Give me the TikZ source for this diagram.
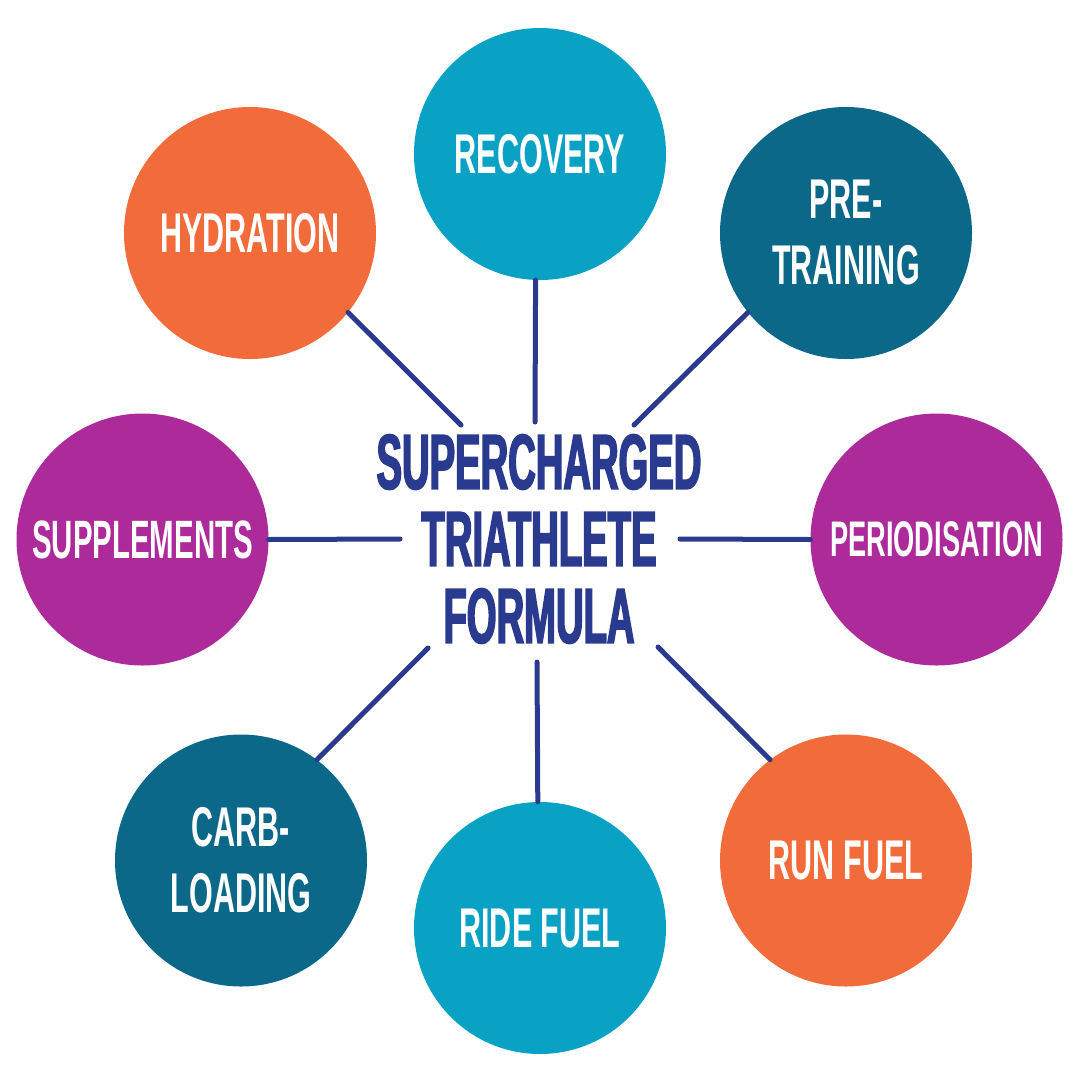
\documentclass[tikz,border=0pt]{standalone}
\usepackage{fontspec}
\newfontfamily\circfont[FakeStretch=0.545]{Liberation Sans Bold}
\newfontfamily\centfont[FakeStretch=0.49,FakeBold=2]{Liberation Sans Bold}
\definecolor{corange}{HTML}{F26C3B}
\definecolor{ccyan}{HTML}{09A2C4}
\definecolor{cteal}{HTML}{0B6888}
\definecolor{cpurple}{HTML}{AD2A9A}
\definecolor{cnavy}{HTML}{2A3B8F}
\tikzset{
  bubble/.style={circle, minimum size=252pt, inner sep=0pt, align=center, text=white,
    font=\circfont\fontsize{56}{66}\selectfont},
  conn/.style={draw=cnavy, line width=5pt, line cap=round},
  title/.style={align=center, text=cnavy, inner sep=0pt,
    font=\centfont\fontsize{78}{77}\selectfont}
}
\begin{document}
\begin{tikzpicture}[x=1pt,y=-1pt]
\path[use as bounding box, fill=white] (0,0) rectangle (1080,1080);

\node[bubble, fill=ccyan]   (rec) at (540,154)   {RECOVERY};
\node[bubble, fill=corange] (hyd) at (250,233)   {HYDRATION};
\node[bubble, fill=cteal]   (pre) at (846,233)   {PRE-\\TRAINING};
\node[bubble, fill=cpurple, font=\circfont\fontsize{54}{66}\selectfont] (sup) at (142.5,539.5) {SUPPLEMENTS};
\node[bubble, fill=cpurple, font=\circfont\fontsize{50}{66}\selectfont] (per) at (936.5,539.5) {PERIODISATION};
\node[bubble, fill=cteal]   (car) at (241,860.5) {CARB-\\LOADING};
\node[bubble, fill=ccyan]   (rid) at (540,928)   {RIDE FUEL};
\node[bubble, fill=corange] (run) at (846,860.5) {RUN FUEL};

\node[title] (ctr) at (539,539) {SUPERCHARGED\\TRIATHLETE\\FORMULA};

\coordinate (eh) at (461,425);
\coordinate (er) at (535,422);
\coordinate (ep) at (634,425);
\coordinate (es) at (400,539);
\coordinate (eq) at (680,539);
\coordinate (ec) at (428,648);
\coordinate (ed) at (537,662);
\coordinate (eu) at (658,647);

\draw[conn] (hyd.-39) -- (eh);
\draw[conn] (rec.-92) -- (er);
\draw[conn] (pre.-141) -- (ep);
\draw[conn] (sup.0) -- (es);
\draw[conn] (per.180) -- (eq);
\draw[conn] (car.53) -- (ec);
\draw[conn] (rid.91) -- (ed);
\draw[conn] (run.127) -- (eu);
\end{tikzpicture}
\end{document}
